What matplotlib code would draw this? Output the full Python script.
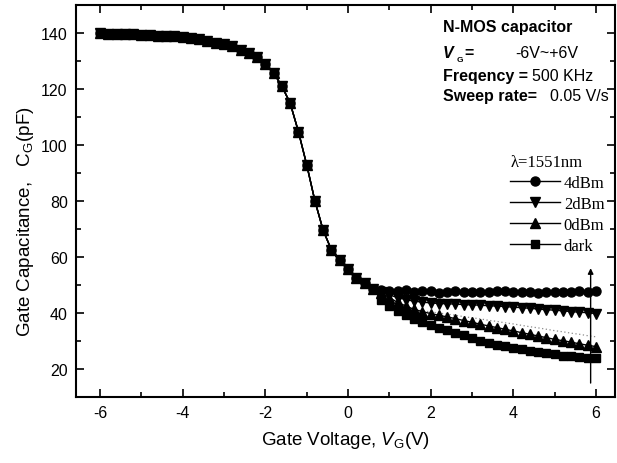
import numpy as np
import matplotlib
matplotlib.use("Agg")
import matplotlib.pyplot as plt
from matplotlib.ticker import MultipleLocator

plt.rcParams['font.family'] = ['Liberation Sans', 'DejaVu Sans']
plt.rcParams['axes.unicode_minus'] = False
plt.rcParams['mathtext.fontset'] = 'custom'
plt.rcParams['mathtext.rm'] = 'Liberation Sans'
plt.rcParams['mathtext.it'] = 'Liberation Sans:italic'
plt.rcParams['mathtext.bf'] = 'Liberation Sans:bold'

# gate voltage sweep (V)
vg_common = [-6.0, -5.8, -5.6, -5.4, -5.2, -5.0, -4.8, -4.6, -4.4, -4.2,
             -4.0, -3.8, -3.6, -3.4, -3.2, -3.0, -2.8, -2.6, -2.4, -2.2,
             -2.0, -1.8, -1.6, -1.4, -1.2, -1.0, -0.8, -0.6, -0.4, -0.2,
             0.0, 0.2, 0.4, 0.6]
# all curves coincide here (pF)
cg_common = [140.0, 139.8, 139.7, 139.6, 139.5, 139.4, 139.3, 139.1, 139.0, 138.8,
             138.6, 138.3, 137.9, 137.2, 136.6, 136.0, 135.2, 134.0, 132.8, 131.4,
             129.0, 125.8, 121.0, 115.0, 104.8, 93.0, 80.0, 69.5, 62.5, 58.8,
             55.6, 52.6, 50.6, 48.7]

vg_split = [0.8, 1.0, 1.2, 1.4, 1.6, 1.8, 2.0, 2.2, 2.4, 2.6,
            2.8, 3.0, 3.2, 3.4, 3.6, 3.8, 4.0, 4.2, 4.4, 4.6,
            4.8, 5.0, 5.2, 5.4, 5.6, 5.8, 6.0]
cg_4dbm = [48.2, 47.8, 47.9, 48.1, 47.6, 47.8, 48.0, 47.3, 47.6, 47.7,
           47.5, 47.6, 47.6, 47.5, 47.7, 47.8, 47.4, 47.5, 47.6, 47.3,
           47.5, 47.6, 47.4, 47.5, 47.7, 47.6, 47.8]
cg_2dbm = [47.5, 46.5, 45.5, 44.8, 44.2, 43.9, 43.6, 43.4, 43.3, 43.2,
           43.0, 42.9, 42.8, 42.6, 42.5, 42.3, 42.1, 41.9, 41.7, 41.4,
           41.2, 41.0, 40.8, 40.5, 40.3, 40.1, 39.8]
cg_0dbm = [47.0, 45.5, 43.8, 42.5, 41.3, 40.5, 39.8, 39.2, 38.6, 38.0,
           37.3, 36.7, 36.0, 35.4, 34.8, 34.2, 33.6, 33.0, 32.4, 31.8,
           31.2, 30.6, 30.1, 29.6, 29.0, 28.5, 28.0]
cg_dark = [44.8, 42.5, 40.6, 39.4, 38.0, 36.8, 35.6, 34.8, 33.8, 33.0,
           32.0, 31.0, 30.0, 29.3, 28.7, 28.2, 27.6, 27.0, 26.5, 26.0,
           25.6, 25.2, 24.8, 24.5, 24.2, 24.0, 23.8]
cg_dotted = [46.0, 44.5, 43.2, 42.2, 41.4, 40.8, 40.4, 40.0, 39.6, 39.2,
             38.7, 38.3, 37.9, 37.4, 37.0, 36.5, 36.1, 35.6, 35.1, 34.7,
             34.2, 33.7, 33.3, 32.8, 32.4, 31.9, 31.5]

labels = ['4dBm', '2dBm', '0dBm', 'dark']
markers = ['o', 'v', '^', 's']
msizes = [6.5, 7, 7, 5.5]
series = [cg_4dbm, cg_2dbm, cg_0dbm, cg_dark]

fig = plt.figure(figsize=(6.17, 4.64), dpi=100)
ax = fig.add_axes([0.1232, 0.1422, 0.8736, 0.8448])

ax.plot(vg_split, cg_dotted, color='0.55', lw=0.9, ls=(0, (1, 2)))
for lab, mk, ms, ys in zip(labels, markers, msizes, series):
    ax.plot(vg_common + vg_split, cg_common + ys, color='black', lw=1.0,
            marker=mk, ms=ms, mfc='black', mec='black', label=lab)

ax.annotate('', xy=(5.87, 57), xytext=(5.87, 14),
            arrowprops=dict(arrowstyle='-|>', lw=1, color='black', mutation_scale=8))

ax.set_xlim(-6.58, 6.46)
ax.set_ylim(10, 150)
ax.xaxis.set_major_locator(MultipleLocator(2))
ax.xaxis.set_minor_locator(MultipleLocator(1))
ax.yaxis.set_major_locator(MultipleLocator(20))
ax.yaxis.set_minor_locator(MultipleLocator(10))
ax.tick_params(which='both', direction='in', top=True, right=True, width=1.2)
ax.tick_params(which='major', length=6, labelsize=11.5, pad=6)
ax.tick_params(which='minor', length=3.5)
for s in ax.spines.values():
    s.set_linewidth(1.5)

ax.set_xlabel(r'Gate Voltage, $V_\mathrm{G}$(V)', fontsize=13.5, labelpad=6)
ax.set_ylabel(r'Gate Capacitance,   $\mathrm{C}_\mathrm{G}$(pF)', fontsize=13.5)
ax.yaxis.set_label_coords(-0.075, 0.45)

leg = ax.legend(loc='upper left', bbox_to_anchor=(0.806, 0.62), frameon=False,
                title='λ=1551nm', alignment='left', handlelength=3.0,
                handletextpad=0.2, labelspacing=0.3, borderaxespad=0,
                borderpad=0, prop={'family': 'Liberation Serif', 'size': 12})
leg.get_title().set_fontfamily('Liberation Serif')
leg.get_title().set_fontsize(12)

fs = 11.5
tx = 0.681
ax.text(tx, 0.944, 'N-MOS capacitor', transform=ax.transAxes, fontsize=fs,
        fontweight='bold', va='center')
ax.text(tx, 0.880, 'V', transform=ax.transAxes, fontsize=fs, fontweight='bold',
        style='italic', va='center')
ax.text(0.706, 0.862, 'G', transform=ax.transAxes, fontsize=6,
        fontweight='bold', va='center')
ax.text(0.72, 0.880, '=', transform=ax.transAxes, fontsize=fs,
        fontweight='bold', va='center')
ax.text(0.8145, 0.880, '-6V~+6V', transform=ax.transAxes, fontsize=fs, va='center')
ax.text(tx, 0.819, 'Freqency =', transform=ax.transAxes, fontsize=fs,
        fontweight='bold', va='center')
ax.text(0.846, 0.819, '500 KHz', transform=ax.transAxes, fontsize=fs, va='center')
ax.text(tx, 0.768, 'Sweep rate=', transform=ax.transAxes, fontsize=fs,
        fontweight='bold', va='center')
ax.text(0.879, 0.768, '0.05 V/s', transform=ax.transAxes, fontsize=fs, va='center')

fig.savefig('out.png', dpi=100)
